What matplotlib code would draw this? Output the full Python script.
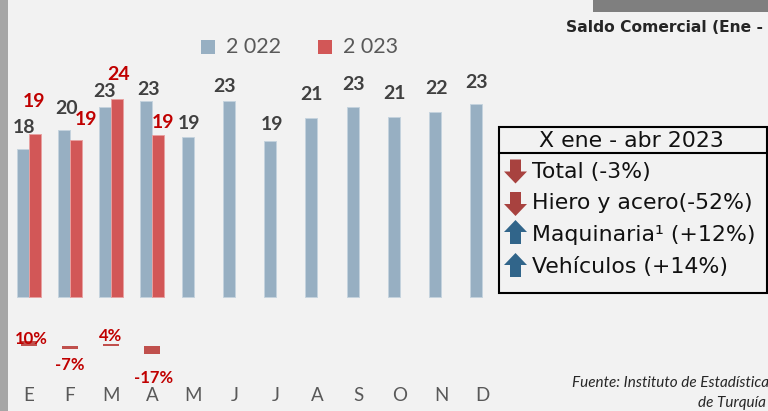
import matplotlib
matplotlib.use('Agg')
import matplotlib.pyplot as plt
from matplotlib.patches import Rectangle, Polygon
from matplotlib.lines import Line2D
import numpy as np

# ---------------- data ----------------
months = ['E', 'F', 'M', 'A', 'M', 'J', 'J', 'A', 'S', 'O', 'N', 'D']
series_names = ['2 022', '2 023']
values_2022 = [18.0, 20.4, 23.2, 23.9, 19.5, 23.9, 19.0, 21.8, 23.2, 21.9, 22.5, 23.5]
values_2023 = [19.9, 19.1, 24.2, 19.8]
pct_change = [10, -7, 4, -17]
title_text = 'Saldo Comercial (Ene - Abr)'
source_text = ['Fuente: Instituto de Estadística', 'de Turquía']
box_title = 'X ene - abr 2023'
box_items = ['Total (-3%)', 'Hiero y acero(-52%)', 'Maquinaria¹ (+12%)', 'Vehículos (+14%)']
box_dirs = ['down', 'down', 'up', 'up']

# label offsets (pixels) relative to bar ends – layout only
off_2022 = [(2, 23), (2.6, 23), (-0.7, 17), (2, 13), (1.6, 15), (-3.8, 16),
            (1.8, 18), (0.5, 25), (1, 24), (0.7, 25), (1.4, 25), (0, 23)]
off_2023 = [(-0.5, 34), (10, 22), (2, 26), (5, 14)]
off_pct = [(2.5, 4), (-0.5, -14), (0, 9), (1, -23)]

# ---------------- style ----------------
W, H = 768, 411
BG = '#f2f2f2'
C22 = '#97afc2'
C23 = '#d25757'
CPCT = '#c0504d'
RED = '#c00000'
SANS = ['Lato', 'DejaVu Sans']

fig = plt.figure(figsize=(W / 100, H / 100), dpi=100)
fig.patch.set_facecolor(BG)


def fx(x):
    return x / W


def fy(y):
    return 1 - y / H


# axes geometry (pixels)
cat0, step = 28.5, 41.25
ax_left = cat0 - 0.5 * step
ax_right = cat0 + 11.5 * step
ax_top, ax_bot = 20, 380
zero_px, k_px = 297, 8.2          # primary axis: value 0 at y=297, 8.2 px per unit
pzero_px, pk_px = 346, 0.47       # percent axis: 0 at y=346, 0.47 px per %

ax = fig.add_axes([fx(ax_left), fy(ax_bot), (ax_right - ax_left) / W, (ax_bot - ax_top) / H])
ax.set_facecolor('none')
ax.set_xlim(-0.5, 11.5)
ax.set_ylim(-(ax_bot - zero_px) / k_px, (zero_px - ax_top) / k_px)
for s in ax.spines.values():
    s.set_visible(False)
ax.set_yticks([])
ax.set_xticks(range(len(months)))
ax.set_xticklabels(months, fontsize=13.5, color='#595959', family=SANS)
ax.tick_params(axis='x', length=0, pad=5)

x = np.arange(len(months))
bw = 12 / step
ax.bar(x - bw / 2, values_2022, width=bw, color=C22, edgecolor='#c4d3de', linewidth=0.7, zorder=2)
x23 = np.arange(len(values_2023))
ax.bar(x23 + bw / 2, values_2023, width=bw, color=C23, edgecolor='#e8a0a0', linewidth=0.7, zorder=3)

for i, v in enumerate(values_2022):
    dx, dy = off_2022[i]
    ax.annotate(str(int(v)), (x[i] - bw / 2, v), xytext=(dx, dy - 7), textcoords='offset pixels',
                ha='center', va='baseline', fontsize=14, fontweight='bold', color='#404040', family=SANS, zorder=5)
for i, v in enumerate(values_2023):
    dx, dy = off_2023[i]
    ax.annotate(str(int(v)), (x23[i] + bw / 2, v), xytext=(dx, dy - 7), textcoords='offset pixels',
                ha='center', va='baseline', fontsize=14, fontweight='bold', color=RED, family=SANS, zorder=5)

# percent axis
ax2 = ax.twinx()
ax2.set_facecolor('none')
ax2.set_ylim(-(ax_bot - pzero_px) / pk_px, (pzero_px - ax_top) / pk_px)
ax2.set_yticks([])
for s in ax2.spines.values():
    s.set_visible(False)
xp = np.arange(len(pct_change))
ax2.bar(xp, pct_change, width=16 / step, color=CPCT, zorder=2)
for i, p in enumerate(pct_change):
    dx, dy = off_pct[i]
    ax2.annotate(f'{p}%', (xp[i], p), xytext=(dx, dy - 6.3), textcoords='offset pixels',
                 ha='center', va='baseline', fontsize=12, fontweight='bold', color=RED, family=SANS, zorder=5)

# legend (manual)
leg = [(201, C22, 226, series_names[0]), (318, C23, 343, series_names[1])]
for sx, col, tx, lab in leg:
    fig.patches.append(Rectangle((fx(sx), fy(54)), 14 / W, 14 / H, transform=fig.transFigure,
                                 facecolor=col, edgecolor='none'))
    fig.text(fx(tx), fy(47), lab, fontsize=15.5, color='#595959', family=SANS, ha='left', va='center')

# decorations
fig.patches.append(Rectangle((0, 0), 8 / W, 1, transform=fig.transFigure, facecolor='#a6a6a6', edgecolor='none'))
fig.patches.append(Rectangle((fx(593), fy(12)), (768 - 593) / W, 12 / H, transform=fig.transFigure,
                             facecolor='#7f7f7f', edgecolor='none'))
fig.text(fx(566), fy(28), title_text, fontsize=11.2, fontweight='bold', color='#262626',
         family='DejaVu Sans', ha='left', va='center')

# source
fig.text(fx(769), fy(383), source_text[0], fontsize=11, style='italic', color='#262626',
         family=SANS, ha='right', va='center')
fig.text(fx(766), fy(403), source_text[1], fontsize=11, style='italic', color='#262626',
         family=SANS, ha='right', va='center')

# info box
bl, br, bt, bb = 499, 767, 127, 293
fig.patches.append(Rectangle((fx(bl), fy(bb)), (br - bl) / W, (bb - bt) / H, transform=fig.transFigure,
                             facecolor=BG, edgecolor='black', linewidth=1.5, zorder=5))
fig.lines.append(Line2D([fx(bl), fx(br)], [fy(153), fy(153)], transform=fig.transFigure,
                        color='black', linewidth=1.5, zorder=6))
fig.text(fx(631), fy(141), box_title, fontsize=15.8, family='DejaVu Sans', color='#111111',
         ha='center', va='center', zorder=7)
row_c = [172, 203, 235, 267]
arrow_c = [171.5, 204, 232, 265]
for i, (lab, d) in enumerate(zip(box_items, box_dirs)):
    fig.text(fx(532), fy(row_c[i]), lab, fontsize=15.8, family='DejaVu Sans', color='#111111',
             ha='left', va='center', zorder=7)
    x0, yc = 504, arrow_c[i]
    if d == 'down':
        pts = [(x0 + 6, yc - 12), (x0 + 17, yc - 12), (x0 + 17, yc), (x0 + 23, yc),
               (x0 + 11.5, yc + 12), (x0, yc), (x0 + 6, yc)]
        col = '#a8423f'
    else:
        pts = [(x0 + 6, yc + 12), (x0 + 17, yc + 12), (x0 + 17, yc), (x0 + 23, yc),
               (x0 + 11.5, yc - 12), (x0, yc), (x0 + 6, yc)]
        col = '#31658a'
    fig.patches.append(Polygon([(fx(a), fy(b)) for a, b in pts], closed=True, transform=fig.transFigure,
                               facecolor=col, edgecolor='none', zorder=7))

fig.savefig('out.png', dpi=100, facecolor=BG)
